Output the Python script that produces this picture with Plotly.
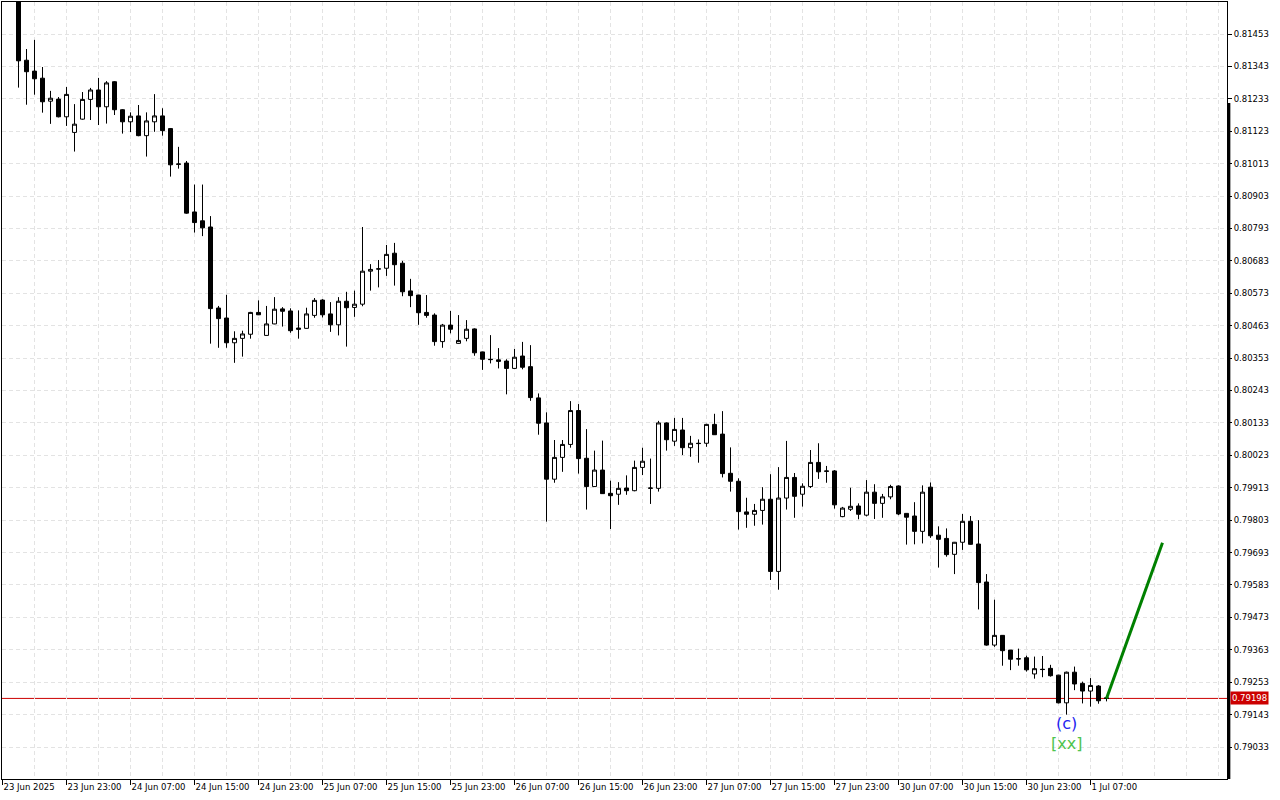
import plotly.graph_objects as go

# ---------------- data (hourly bars) ----------------
opens = [0.81600, 0.81364, 0.81327, 0.81303, 0.81225, 0.81232, 0.81172, 0.81119, 0.81164, 0.81231,
         0.81263, 0.81206, 0.81291, 0.81196, 0.81155, 0.81175, 0.81108, 0.81155, 0.81175, 0.81132,
         0.81012, 0.81015, 0.80849, 0.80819, 0.80798, 0.80523, 0.80489, 0.80405, 0.80420, 0.80434,
         0.80508, 0.80430, 0.80469, 0.80520, 0.80513, 0.80455, 0.80454, 0.80498, 0.80550, 0.80503,
         0.80466, 0.80546, 0.80525, 0.80536, 0.80648, 0.80655, 0.80658, 0.80709, 0.80675, 0.80581,
         0.80567, 0.80508, 0.80499, 0.80409, 0.80465, 0.80403, 0.80420, 0.80452, 0.80374, 0.80349,
         0.80347, 0.80343, 0.80318, 0.80360, 0.80324, 0.80218, 0.80133, 0.79942, 0.80016, 0.80060,
         0.80175, 0.80013, 0.79917, 0.79973, 0.79894, 0.79891, 0.79912, 0.79903, 0.79982, 0.79911,
         0.79911, 0.80133, 0.80071, 0.80109, 0.80049, 0.80064, 0.80064, 0.80128, 0.80095, 0.79962,
         0.79935, 0.79831, 0.79823, 0.79836, 0.79874, 0.79629, 0.79878, 0.79948, 0.79891, 0.79917,
         0.79999, 0.79970, 0.79970, 0.79815, 0.79840, 0.79851, 0.79820, 0.79898, 0.79860, 0.79882,
         0.79919, 0.79826, 0.79817, 0.79765, 0.79915, 0.79752, 0.79741, 0.79687, 0.79728, 0.79799,
         0.79722, 0.79593, 0.79379, 0.79412, 0.79362, 0.79333, 0.79336, 0.79281, 0.79297, 0.79300,
         0.79277, 0.79183, 0.79287, 0.79249, 0.79223, 0.79240, 0.79200]

highs = [0.81640, 0.81402, 0.81433, 0.81341, 0.81260, 0.81239, 0.81273, 0.81215, 0.81256, 0.81270,
         0.81304, 0.81293, 0.81293, 0.81198, 0.81187, 0.81212, 0.81187, 0.81249, 0.81201, 0.81134,
         0.81070, 0.81022, 0.80942, 0.80942, 0.80835, 0.80530, 0.80568, 0.80444, 0.80446, 0.80510,
         0.80549, 0.80530, 0.80560, 0.80526, 0.80522, 0.80515, 0.80524, 0.80557, 0.80553, 0.80543,
         0.80560, 0.80578, 0.80582, 0.80798, 0.80672, 0.80686, 0.80737, 0.80744, 0.80683, 0.80622,
         0.80568, 0.80567, 0.80505, 0.80469, 0.80513, 0.80499, 0.80482, 0.80454, 0.80375, 0.80431,
         0.80387, 0.80349, 0.80384, 0.80408, 0.80397, 0.80233, 0.80169, 0.80075, 0.80075, 0.80207,
         0.80197, 0.80112, 0.80039, 0.80073, 0.79937, 0.79932, 0.79955, 0.80005, 0.80049, 0.80012,
         0.80140, 0.80135, 0.80150, 0.80150, 0.80089, 0.80077, 0.80130, 0.80164, 0.80173, 0.80050,
         0.79945, 0.79879, 0.79858, 0.79915, 0.79959, 0.79983, 0.80072, 0.79963, 0.79928, 0.80041,
         0.80064, 0.79987, 0.79973, 0.79848, 0.79913, 0.79860, 0.79939, 0.79925, 0.79892, 0.79923,
         0.79921, 0.79827, 0.79864, 0.79921, 0.79931, 0.79782, 0.79775, 0.79729, 0.79824, 0.79817,
         0.79803, 0.79620, 0.79533, 0.79413, 0.79362, 0.79367, 0.79343, 0.79340, 0.79342, 0.79312,
         0.79278, 0.79289, 0.79306, 0.79255, 0.79267, 0.79243, 0.79203]

lows = [0.81271, 0.81213, 0.81247, 0.81186, 0.81148, 0.81170, 0.81141, 0.81054, 0.81162, 0.81161,
        0.81144, 0.81149, 0.81178, 0.81115, 0.81120, 0.81106, 0.81037, 0.81121, 0.81108, 0.80969,
        0.80996, 0.80843, 0.80779, 0.80767, 0.80402, 0.80388, 0.80388, 0.80337, 0.80358, 0.80419,
        0.80499, 0.80429, 0.80468, 0.80460, 0.80439, 0.80419, 0.80453, 0.80490, 0.80491, 0.80442,
        0.80430, 0.80392, 0.80493, 0.80529, 0.80582, 0.80593, 0.80632, 0.80599, 0.80563, 0.80526,
        0.80466, 0.80490, 0.80395, 0.80388, 0.80437, 0.80402, 0.80410, 0.80361, 0.80313, 0.80335,
        0.80318, 0.80230, 0.80317, 0.80315, 0.80208, 0.80093, 0.79798, 0.79930, 0.79967, 0.80049,
        0.79961, 0.79839, 0.79916, 0.79892, 0.79773, 0.79855, 0.79889, 0.79901, 0.79956, 0.79858,
        0.79900, 0.80039, 0.80055, 0.80024, 0.80018, 0.79998, 0.80052, 0.80092, 0.79948, 0.79900,
        0.79771, 0.79777, 0.79784, 0.79788, 0.79600, 0.79567, 0.79839, 0.79811, 0.79849, 0.79912,
        0.79943, 0.79930, 0.79842, 0.79813, 0.79834, 0.79806, 0.79816, 0.79807, 0.79811, 0.79874,
        0.79820, 0.79720, 0.79721, 0.79724, 0.79743, 0.79642, 0.79679, 0.79620, 0.79702, 0.79720,
        0.79500, 0.79377, 0.79373, 0.79309, 0.79294, 0.79309, 0.79289, 0.79265, 0.79270, 0.79272,
        0.79181, 0.79143, 0.79226, 0.79181, 0.79170, 0.79180, 0.79188]

closes = [0.81362, 0.81325, 0.81301, 0.81223, 0.81235, 0.81172, 0.81248, 0.81147, 0.81231, 0.81263,
          0.81206, 0.81287, 0.81196, 0.81155, 0.81174, 0.81108, 0.81158, 0.81175, 0.81125, 0.81009,
          0.81011, 0.80845, 0.80813, 0.80795, 0.80521, 0.80487, 0.80405, 0.80420, 0.80435, 0.80508,
          0.80500, 0.80469, 0.80519, 0.80512, 0.80446, 0.80451, 0.80503, 0.80549, 0.80500, 0.80466,
          0.80546, 0.80524, 0.80536, 0.80648, 0.80654, 0.80656, 0.80705, 0.80670, 0.80578, 0.80565,
          0.80507, 0.80498, 0.80409, 0.80465, 0.80451, 0.80413, 0.80451, 0.80371, 0.80349, 0.80348,
          0.80342, 0.80318, 0.80356, 0.80322, 0.80219, 0.80132, 0.79942, 0.80016, 0.80060, 0.80175,
          0.80012, 0.79917, 0.79973, 0.79893, 0.79886, 0.79911, 0.79903, 0.79982, 0.80003, 0.79912,
          0.80133, 0.80076, 0.80111, 0.80049, 0.80064, 0.80063, 0.80128, 0.80093, 0.79961, 0.79935,
          0.79832, 0.79823, 0.79836, 0.79874, 0.79629, 0.79878, 0.79948, 0.79884, 0.79918, 0.79999,
          0.79967, 0.79969, 0.79855, 0.79844, 0.79850, 0.79823, 0.79898, 0.79860, 0.79882, 0.79917,
          0.79824, 0.79813, 0.79765, 0.79898, 0.79750, 0.79738, 0.79686, 0.79728, 0.79799, 0.79721,
          0.79591, 0.79379, 0.79412, 0.79360, 0.79331, 0.79332, 0.79295, 0.79299, 0.79296, 0.79275,
          0.79183, 0.79287, 0.79247, 0.79223, 0.79242, 0.79190, 0.79198]

first_bar = 2                     # bar slot of the first visible candle
bar_index = list(range(first_bar, first_bar + len(opens)))

time_labels = ["23 Jun 2025", "23 Jun 23:00", "24 Jun 07:00", "24 Jun 15:00", "24 Jun 23:00",
               "25 Jun 07:00", "25 Jun 15:00", "25 Jun 23:00", "26 Jun 07:00", "26 Jun 15:00",
               "26 Jun 23:00", "27 Jun 07:00", "27 Jun 15:00", "27 Jun 23:00", "30 Jun 07:00",
               "30 Jun 15:00", "30 Jun 23:00", "1 Jul 07:00"]
label_step = 8
time_positions = [k * label_step for k in range(len(time_labels))]

price_ticks = [0.79033, 0.79143, 0.79253, 0.79363, 0.79473, 0.79583, 0.79693, 0.79803, 0.79913,
               0.80023, 0.80133, 0.80243, 0.80353, 0.80463, 0.80573, 0.80683, 0.80793, 0.80903,
               0.81013, 0.81123, 0.81233, 0.81343, 0.81453]
price_labels = ["%.5f" % v for v in price_ticks]

current_price = 0.79198

# Elliott wave projection and labels
proj_x = [138, 145]
proj_y = [0.79198, 0.79726]
wave_label_x = 133
wave_label_c_y = 0.79113
wave_label_xx_y = 0.79046

FONT = "DejaVu Sans"

fig = go.Figure()

fig.add_trace(go.Candlestick(
    x=bar_index, open=opens, high=highs, low=lows, close=closes,
    increasing=dict(line=dict(color="black", width=1), fillcolor="white"),
    decreasing=dict(line=dict(color="black", width=1), fillcolor="black"),
    whiskerwidth=0,
    hoverinfo="skip",
    showlegend=False,
))

fig.add_trace(go.Scatter(
    x=proj_x, y=proj_y, mode="lines",
    line=dict(color="#008000", width=3),
    hoverinfo="skip", showlegend=False,
))

# current price line
fig.add_shape(type="line", xref="paper", x0=0, x1=1, yref="y",
              y0=current_price, y1=current_price,
              line=dict(color="#CC0000", width=1), layer="below")

# thick scale bar on the right border
fig.add_shape(type="line", xref="paper", x0=1.0015, x1=1.0015, yref="paper",
              y0=0, y1=0.870, line=dict(color="black", width=3))

fig.add_annotation(x=1, xref="paper", y=current_price, yref="y",
                   text="%.5f" % current_price,
                   xanchor="left", yanchor="middle", xshift=3, showarrow=False,
                   bgcolor="#CC0000", borderpad=1,
                   font=dict(family=FONT, size=8.5, color="white"))

fig.add_annotation(x=wave_label_x, y=wave_label_c_y, text="(c)", showarrow=False,
                   font=dict(family=FONT, size=16, color="#2424F0"))
fig.add_annotation(x=wave_label_x, y=wave_label_xx_y, text="[xx]", showarrow=False,
                   font=dict(family=FONT, size=16, color="#4EC44E"))

grid_dash = "4px,3px"
half_px = 0.0625   # half a pixel in bar units, keeps 1px wicks crisp
fig.update_layout(
    width=1280, height=800,
    margin=dict(l=2, r=53, t=2, b=21, autoexpand=False),
    paper_bgcolor="white", plot_bgcolor="white",
    boxgap=0.5, boxgroupgap=0,
    showlegend=False,
    font=dict(family=FONT, size=8.5, color="black"),
    xaxis=dict(
        range=[-half_px, 153.125 - half_px],
        tickmode="array", tickvals=time_positions, ticktext=time_labels,
        ticks="outside", ticklen=5, tickcolor="black",
        ticklabelposition="outside right",
        tickfont=dict(family=FONT, size=8.5, color="black"),
        showgrid=True, gridcolor="#E3E3E3", griddash=grid_dash, gridwidth=1,
        minor=dict(tick0=0, dtick=4, showgrid=True, gridcolor="#E3E3E3",
                   griddash=grid_dash, ticks=""),
        showline=True, linecolor="black", linewidth=1, mirror=True,
        zeroline=False, rangeslider=dict(visible=False), fixedrange=True,
    ),
    yaxis=dict(
        side="right",
        range=[0.789245, 0.815616],
        tickmode="array", tickvals=price_ticks, ticktext=price_labels,
        ticks="outside", ticklen=4, tickcolor="black",
        tickfont=dict(family=FONT, size=8.5, color="black"),
        showgrid=True, gridcolor="#E3E3E3", griddash=grid_dash, gridwidth=1,
        showline=True, linecolor="black", linewidth=1, mirror=True,
        zeroline=False, fixedrange=True,
    ),
)

fig.write_html("out.html", config={"displayModeBar": False},
               post_script="document.body.style.margin='0';")
